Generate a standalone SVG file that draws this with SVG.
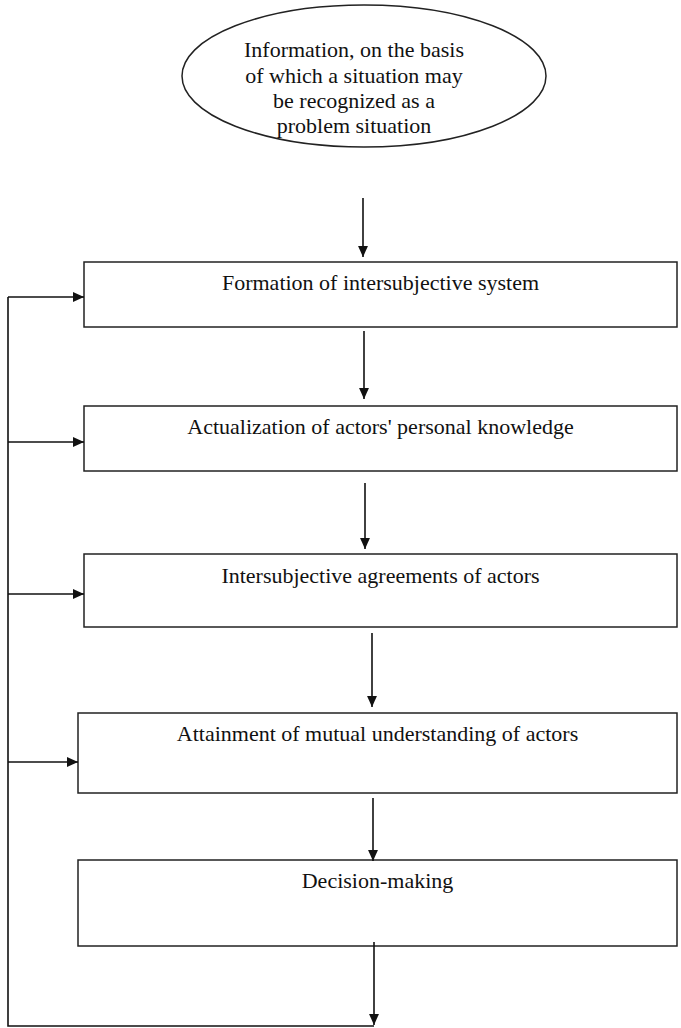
<svg xmlns="http://www.w3.org/2000/svg" width="681" height="1028" viewBox="0 0 681 1028">
<style>
.box{fill:#fff;stroke:#222;stroke-width:1.5}
.lbl{font-family:"Liberation Serif","Times New Roman",Times,serif;font-size:22px;fill:#111;text-anchor:middle}
.ln{fill:none;stroke:#111;stroke-width:1.6}
.arr{fill:none;stroke:#111;stroke-width:1.6;marker-end:url(#ah)}
</style>
<defs>
<marker id="ah" viewBox="0 0 10 10" refX="10" refY="5" markerWidth="11" markerHeight="11" markerUnits="userSpaceOnUse" orient="auto">
<path d="M0,0.5 L10,5 L0,9.5 Z" fill="#111"/>
</marker>
</defs>
<rect width="681" height="1028" fill="#fff"/>
<g id="start">
<ellipse class="box" cx="364" cy="76" rx="182" ry="71"/>
<text class="lbl" x="354" y="57">Information, on the basis</text>
<text class="lbl" x="354" y="83">of which a situation may</text>
<text class="lbl" x="354" y="108">be recognized as a</text>
<text class="lbl" x="354" y="133">problem situation</text>
</g>
<g id="n1">
<rect class="box" x="84" y="262" width="593" height="65"/>
<text class="lbl" x="380.5" y="290">Formation of intersubjective system</text>
</g>
<g id="n2">
<rect class="box" x="84" y="406" width="593" height="65"/>
<text class="lbl" x="380.5" y="434">Actualization of actors' personal knowledge</text>
</g>
<g id="n3">
<rect class="box" x="84" y="554" width="593" height="73"/>
<text class="lbl" x="380.5" y="583">Intersubjective agreements of actors</text>
</g>
<g id="n4">
<rect class="box" x="78" y="713" width="599" height="80"/>
<text class="lbl" x="377.5" y="741">Attainment of mutual understanding of actors</text>
</g>
<g id="n5">
<rect class="box" x="78" y="860" width="599" height="86"/>
<text class="lbl" x="377.5" y="888">Decision-making</text>
</g>
<g id="connectors">
<line class="arr" x1="363" y1="198" x2="363" y2="257"/>
<line class="arr" x1="364" y1="331" x2="364" y2="399"/>
<line class="arr" x1="365" y1="483" x2="365" y2="549"/>
<line class="arr" x1="372" y1="633" x2="372" y2="707"/>
<line class="arr" x1="373" y1="798" x2="373" y2="861"/>
<line class="arr" x1="374" y1="942" x2="374" y2="1025"/>
<polyline class="ln" points="374,1026 8,1026 8,297"/>
<line class="arr" x1="8" y1="297" x2="84" y2="297"/>
<line class="arr" x1="8" y1="442" x2="84" y2="442"/>
<line class="arr" x1="8" y1="594" x2="84" y2="594"/>
<line class="arr" x1="8" y1="762" x2="78" y2="762"/>
</g>
</svg>
